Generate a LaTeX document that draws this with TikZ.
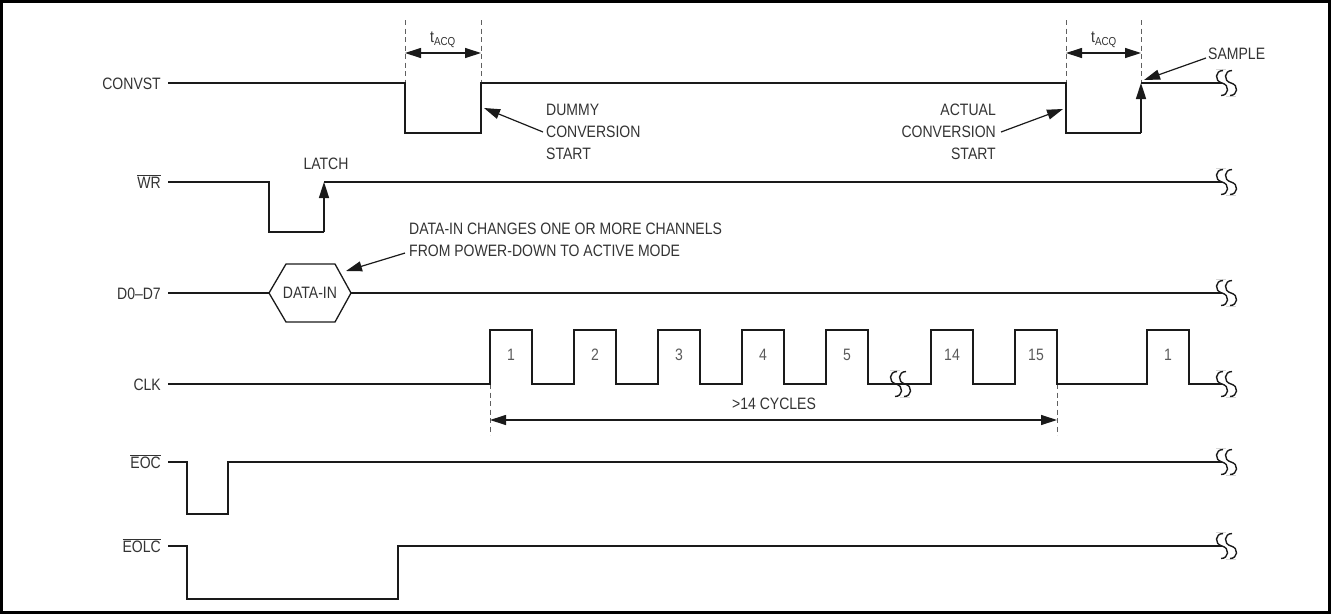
\documentclass[tikz,border=0pt]{standalone}
\usepackage{fontspec}
\setmainfont[FakeStretch=0.85]{Liberation Sans}
\usepackage{tikz}
\usetikzlibrary{arrows.meta}
\definecolor{figink}{HTML}{333333}
\definecolor{figline}{HTML}{1A1A1A}
\definecolor{figgray}{HTML}{5A5A5A}
\definecolor{figdash}{HTML}{606060}
\definecolor{figfaint}{HTML}{D8D8D8}
\newcommand{\figfont}{\fontsize{16.5}{22}\selectfont}
\tikzset{
  sig/.style={line width=1.6pt,figline},
  guide/.style={line width=1pt,figdash,dash pattern=on 5pt off 3.5pt},
  lbl/.style={font=\figfont,text=figink,inner sep=0pt},
  num/.style={font=\figfont,text=figgray,inner sep=0pt},
  callout/.style={line width=1.2pt,figline,-{Triangle[length=16pt,width=10pt]}},
  dimline/.style={line width=1.2pt,figline,{Triangle[length=16pt,width=10pt]}-{Triangle[length=16pt,width=10pt]}},
  brk/.pic={
    \draw[line width=1pt,figfaint] (-10,-13.5) -- (0,-13.5) (0,13.5) -- (10,13.5);
    \draw[line width=1.4pt,figline] (-3,-12.5) .. controls (-11,-12.5) and (-12,-2) .. (-4,0) .. controls (4,2) and (3,12.5) .. (-5,12.5);
    \draw[line width=1.4pt,figline] (6,-12.5) .. controls (-2,-12.5) and (-3,-2) .. (5,0) .. controls (13,2) and (12,12.5) .. (4,12.5);
  },
}

\begin{document}
\begin{tikzpicture}[x=1pt,y=-1pt]
\useasboundingbox (0,0) rectangle (1331,614);
\draw[line width=3pt,black] (1.5,1.5) rectangle (1329.5,612.5);
\node[lbl,anchor=base east] (convst) at (161,89) {CONVST};
\node[lbl,anchor=base east] (wr) at (161,188) {$\overline{\mbox{WR}}$};
\node[lbl,anchor=base east] (data) at (161,299) {D0--D7};
\node[lbl,anchor=base east] (clk) at (161,390) {CLK};
\node[lbl,anchor=base east] (eoc) at (161,468) {$\overline{\mbox{EOC}}$};
\node[lbl,anchor=base east] (eolc) at (161,552) {$\overline{\mbox{EOLC}}$};
\draw[guide] (405,20) -- (405,83);
\draw[guide] (481,20) -- (481,83);
\draw[guide] (1066,20) -- (1066,83);
\draw[guide] (1141,20) -- (1141,83);
\draw[guide] (490,384) -- (490,435);
\draw[guide] (1057,384) -- (1057,435);
\coordinate (acqa) at (405,53);
\coordinate (acqb) at (481,53);
\coordinate (acqc) at (1066,53);
\coordinate (acqd) at (1141,53);
\coordinate (cyca) at (490,420);
\coordinate (cycb) at (1057,420);
\draw[dimline] (acqa) -- (acqb);
\draw[dimline] (acqc) -- (acqd);
\draw[dimline] (cyca) -- (cycb);
\node[lbl] (acqone) at (443,40) {t\textsubscript{ACQ}};
\node[lbl] (acqtwo) at (1104,40) {t\textsubscript{ACQ}};
\node[lbl] (cycles) at (774,404) {>14 CYCLES};
\draw[sig] (168,83) -- (405,83) -- (405,133) -- (481,133) -- (481,83) -- (1066,83) -- (1066,133) -- (1141,133);
\draw[sig,-{Triangle[length=16pt,width=10pt]}] (1141,133) -- (1141,83);
\draw[sig] (1141,83) -- (1222,83);
\node[lbl,anchor=west,align=left] (dummy) at (546,132) {DUMMY\\CONVERSION\\START};
\node[lbl,anchor=east,align=right] (actual) at (996,132) {ACTUAL\\CONVERSION\\START};
\node[lbl,anchor=west] (sample) at (1208,54) {SAMPLE};
\coordinate (dummyedge) at (484,108);
\coordinate (actualedge) at (1063,109);
\coordinate (sampleedge) at (1144,80);
\draw[callout] ([xshift=-3pt]dummy.west) -- (dummyedge);
\draw[callout] ([xshift=5pt]actual.east) -- (actualedge);
\draw[callout] ([xshift=-2pt,yshift=-4pt]sample.west) -- (sampleedge);
\draw[sig] (168,182) -- (269,182) -- (269,232) -- (324,232);
\draw[sig,-{Triangle[length=16pt,width=10pt]}] (324,232) -- (324,182);
\draw[sig] (324,182) -- (1222,182);
\node[lbl] (latch) at (326,164) {LATCH};
\draw[sig] (168,293) -- (269,293);
\draw[sig,line width=1.3pt] (269,293) -- (286,264) -- (335,264) -- (351,293) -- (335,322) -- (286,322) -- cycle;
\draw[sig] (351,293) -- (1222,293);
\node[lbl] (datain) at (310,293) {DATA-IN};
\node[lbl,anchor=west,align=left] (note) at (409,240) {DATA-IN CHANGES ONE OR MORE CHANNELS\\FROM POWER-DOWN TO ACTIVE MODE};
\coordinate (hexedge) at (346,271);
\draw[callout] ([xshift=-4pt,yshift=4pt]note.south west) -- (hexedge);
\draw[sig] (168,384) -- (490,384)
  \foreach \i in {0,...,4} { -- (490+84*\i,330) -- (532+84*\i,330) -- (532+84*\i,384) -- (574+84*\i,384) }
  -- (574+84*4,384) -- (896,384);
\draw[sig] (905,384) -- (931,384) -- (931,330) -- (973,330) -- (973,384) -- (1015,384) -- (1015,330) -- (1057,330) -- (1057,384) -- (1147,384) -- (1147,330) -- (1189,330) -- (1189,384) -- (1222,384);
\pic at (900,384) {brk};
\foreach \n [count=\i from 0] in {1,2,3,4,5}
  \node[num] (clk\n) at (511+84*\i,355) {\n};
\node[num] (clkfourteen) at (952,355) {14};
\node[num] (clkfifteen) at (1036,355) {15};
\node[num] (clknext) at (1168,355) {1};
\draw[sig] (168,462) -- (187,462) -- (187,514) -- (228,514) -- (228,462) -- (1222,462);
\draw[sig] (168,546) -- (187,546) -- (187,599) -- (398,599) -- (398,546) -- (1222,546);
\foreach \y in {83,182,293,384,462,546}
  \pic at (1226,\y) {brk};
\end{tikzpicture}
\end{document}
